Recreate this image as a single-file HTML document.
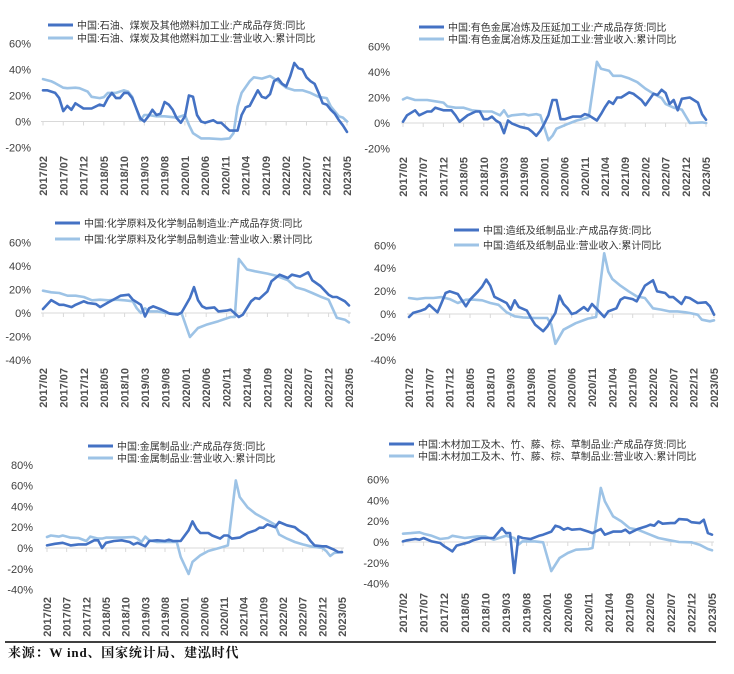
<!DOCTYPE html>
<html><head><meta charset="utf-8"><style>
html,body{margin:0;padding:0;background:#fff;}
svg{display:block;}
text{font-family:"Liberation Sans","Noto Sans CJK SC",sans-serif;}
</style></head><body>
<svg id="chart" width="734" height="674" viewBox="0 0 734 674" xmlns="http://www.w3.org/2000/svg">
<line x1="5" y1="642" x2="716" y2="642" stroke="#000" stroke-width="1.5"/>
<text x="8" y="657" font-size="13" font-weight="bold" letter-spacing="0.8" style="font-family:'Liberation Serif','Noto Serif CJK SC',serif" fill="#111">来源：W ind、国家统计局、建泓时代</text>
</svg>
<script>
const monthLabels=["2017/02","2017/07","2017/12","2018/05","2018/10","2019/03","2019/08","2020/01","2020/06","2020/11","2021/04","2021/09","2022/02","2022/07","2022/12","2023/05"];
const p1Ticks=[60,40,20,0,-20];
const p1DarkM=[0,1,3,4,5,6,7,8,10,12,14,15,16,17,18,19,20,21,22,24,25,26,27,28,29,30,31,32,33,34,35,36,37,38,39,40,42,43,44,45,46,48,49,50,51,53,54,55,56,57,58,59,60,61,62,63,64,65,66,67,68,69,70,71,72,73,74,75];
const p1DarkV=[24,24,22,18,8,12,9,14,10,10,13,12,18,22,18,18,22,22,18,2.5,0,4,9,5,6,15,13,9,2.5,-1,4,20,19,5,0,-1,1,-1,-1,-4,-7,-7,5,11,12,24,19,18,21,31,33,29,27,35,45,41,40,34,31,29,22,14,13,9,6,1,-3,-8];
const p1LightM=[0,2,3,5,6,8,9,11,12,14,15,16,18,20,21,22,24,25,26,28,30,33,35,36,37,39,41,44,46,47,48,49,51,52,54,56,58,60,62,64,66,68,70,71,73,74,75];
const p1LightV=[32.6,31,29.5,26,25.6,26,25.6,23,19,18,18.7,22,22,24,23,19,1,5,5,4,4,3,5,-2.5,-9,-13,-13,-13.6,-13,-9,11.5,22,31,34,33,35,31,26,24,24,22,19,18,11.5,4,3,0];

const p2Ticks=[60,40,20,0,-20];
const p2DarkM=[0,1,3,4,6,7,8,10,12,13,14,16,18,19,20,21,22,23,24,25,26,27,29,31,32,33,34,35,36,37,38,39,40,42,44,45,46,48,49,50,51,52,53,54,56,57,59,60,62,63,64,65,66,67,68,69,71,73,74,75];
const p2DarkV=[1,6,10,6,9,9,12,10,10,6,1,6,9,9,3,3,5,2,0,-8,2,-0.5,-3,-4.5,-7,-10,-6,-0.5,6,18,18,3,3,5,5,7,6,2,7,12.5,17,15,20,20,24,23,18,14,23,22,26,23.5,15,18,10,19,20,16,7,2.5];
const p2LightM=[0,1,3,6,8,10,11,13,15,17,20,22,24,25,26,27,30,31,33,34,36,37,38,41,43,45,46,48,49,51,52,54,56,58,60,62,64,65,67,69,71,74,75];
const p2LightV=[18.5,20,18,18,17,16,13,12,12,10,9,9,6,10,5,6,7,6,7,6,-13.5,-10,-4.5,-0.5,2,3.5,4.7,48,42.6,41,37,37,35,32,27,23,19.6,15,12,10.5,0,0.5,0];

const p3Ticks=[60,40,20,0,-20,-40];
const p3DarkM=[0,2,4,5,7,8,10,11,13,14,16,18,19,21,22,24,25,26,27,29,30,31,33,34,36,37,38,39,40,42,43,45,46,48,49,51,52,53,55,56,58,60,61,63,65,66,68,70,71,72,74,75];
const p3DarkV=[3.4,11,7,7,5,7,10,8.5,7.6,5,9,12.8,14.7,15.6,11.3,7,-3,4,5.7,3,1.4,-0.5,-1.4,0.5,12.8,22,11,5.7,4,4.8,1.4,2,2.8,-3.4,-1.4,10,12.8,12,18.4,27,32.6,29.8,32.6,31,34.6,27.8,23,15.6,13.6,13.6,10,6.5];
const p3LightM=[0,2,4,6,8,10,12,14,16,18,20,22,23,24,25,26,28,30,32,34,36,38,40,43,46,47,48,50,52,55,57,60,62,64,66,68,70,72,74,75];
const p3LightV=[19,17.6,17,14.7,14.7,13.6,10.8,11.3,10.8,11.3,10.8,10,4,0,4,1.4,1.4,0,-0.5,-0.5,-20.4,-12.8,-10,-7,-3.4,-3.4,46,37,35.5,33.5,31.8,28,21.8,19.9,17,14,11.3,-4,-5.7,-8];

const p4Ticks=[60,40,20,0,-20,-40];
const p4DarkM=[0,1,3,4,5,7,8,9,10,12,14,15,17,18,19,20,21,24,25,26,27,29,30,31,33,34,36,37,38,39,40,41,43,44,45,46,48,49,51,52,53,55,56,58,60,61,63,64,65,67,68,69,71,73,74,75];
const p4DarkV=[-2.6,1,3,4.4,8,1.5,9.6,18.3,19.8,17.5,6.7,12.5,19.8,24,30,24.7,15,9.6,3.8,12,6,3,-3.5,-9.3,-15,-10.8,1,16,8.7,5,0,1,6,3,8.7,5,-2.6,2.3,5,12.5,14.5,13,11,24.7,29.4,19.8,18.3,14.8,14.8,8.7,14.8,14,9.6,10.2,6.7,-0.6];
const p4LightM=[0,2,4,6,8,10,12,14,16,18,20,22,24,26,28,31,34,35,36,38,41,44,46,48,49,50,52,54,56,58,60,62,64,66,68,69,71,72,74,75];
const p4LightV=[14,13,14,14,14.8,13,9.6,12.5,12.5,12,9.6,8,1.5,-2,-3,-3.5,-3.5,-9.3,-26,-13.7,-8,-4,-2.6,53,37,30.6,24.7,19.8,15.4,14,5,3.8,2.3,2.3,1.5,0.9,-0.6,-5,-6.4,-5.5];

const p5Ticks=[80,60,40,20,0,-20,-40];
const p5DarkM=[0,2,4,6,8,10,12,13,14,15,17,19,21,22,23,25,26,28,30,31,32,34,36,37,38,39,41,42,44,45,46,47,49,51,53,54,55,56,58,59,61,63,64,66,67,68,70,71,73,74,75];
const p5DarkV=[2.5,4,5,2.5,3.5,3.5,7.4,7.4,0,5,6.7,7.4,5.8,3.5,5,1.6,6.7,7.4,6.7,8,6.7,6.7,17,25.6,18.6,14.4,14.4,12,9,12,12,9,10,14.4,17,19.5,19.5,22.7,20,25,21.8,20,17,12,6.7,2.5,1.6,1.6,-1.6,-3.8,-4];
const p5LightM=[0,1,3,4,6,8,10,11,13,14,15,17,19,22,23,24,25,26,28,31,33,34,36,37,39,41,44,46,48,49,51,53,56,58,59,61,63,65,67,70,71,72,73,75];
const p5LightV=[10.6,12,11,12,10,9.6,6.7,11,9,9,10,10,10,10.6,9,5.8,11,7.4,5.8,5.8,5.8,-8.6,-25,-13.4,-7,-2.9,0.3,2.5,65,49,39,33,26.6,22.4,13,9,5.8,3.5,1.6,0,-3,-7.7,-4.8,-3.8];

const p6Ticks=[60,40,20,0,-20,-40];
const p6DarkM=[0,1,3,4,5,7,9,10,12,13,16,17,19,22,24,25,26,27,28,29,31,33,34,36,37,38,39,40,41,43,45,46,48,49,51,53,54,55,57,59,60,61,62,63,65,66,67,69,70,72,73,74,75];
const p6DarkV=[0.6,1.6,2.9,2.2,3.8,0.6,-1,-4,-9,-3.5,-0.3,1.6,3.8,3.8,13.4,8.6,8.6,-29.8,5.4,3.8,2.9,6,7,10,15.7,14.4,11.8,13.4,11.8,12.5,10,8.6,12.5,7,10,10,11.8,8.6,12.5,15,16.6,15.7,19.8,17.6,18.2,18.2,22,21.4,19,18.2,21.4,8.6,7];
const p6LightM=[0,2,4,5,7,9,11,12,15,18,20,22,25,27,28,29,32,34,36,38,40,42,45,46,48,49,51,53,55,57,60,62,64,67,70,72,74,75];
const p6LightV=[8,8.6,9.3,8,6,2.9,3.8,6,3.8,5.4,5.4,2.2,6,3.8,-2.6,0.6,0.6,-0.3,-28,-15.4,-10.6,-7.4,-6.7,-5.8,52,39,24.6,19.8,13.4,11.8,7,3.8,2.2,0,-0.3,-2.6,-6.7,-8];

const panels=[
 {id:'p1',x0:43,x1:347,y0:121.5,k:26,lblR:31,ticks:p1Ticks,dm:p1DarkM,dv:p1DarkV,lm:p1LightM,lv:p1LightV,lgX:48,lgY:[25,38],xl:156,
  names:["中国:石油、煤炭及其他燃料加工业:产成品存货:同比","中国:石油、煤炭及其他燃料加工业:营业收入:累计同比"]},
 {id:'p2',x0:403,x1:706,y0:123,k:25.5,lblR:390,ticks:p2Ticks,dm:p2DarkM,dv:p2DarkV,lm:p2LightM,lv:p2LightV,lgX:419,lgY:[27,39],xl:157,
  names:["中国:有色金属冶炼及压延加工业:产成品存货:同比","中国:有色金属冶炼及压延加工业:营业收入:累计同比"]},
 {id:'p3',x0:43,x1:349,y0:313,k:23.5,lblR:31,ticks:p3Ticks,dm:p3DarkM,dv:p3DarkV,lm:p3LightM,lv:p3LightV,lgX:55,lgY:[223,239],xl:368,
  names:["中国:化学原料及化学制品制造业:产成品存货:同比","中国:化学原料及化学制品制造业:营业收入:累计同比"]},
 {id:'p4',x0:409,x1:714,y0:314,k:22.9,lblR:396,ticks:p4Ticks,dm:p4DarkM,dv:p4DarkV,lm:p4LightM,lv:p4LightV,lgX:454,lgY:[230,245],xl:368,
  names:["中国:造纸及纸制品业:产成品存货:同比","中国:造纸及纸制品业:营业收入:累计同比"]},
 {id:'p5',x0:47,x1:342,y0:548,k:20.8,lblR:33,ticks:p5Ticks,dm:p5DarkM,dv:p5DarkV,lm:p5LightM,lv:p5LightV,lgX:88,lgY:[446,458],xl:597,
  names:["中国:金属制品业:产成品存货:同比","中国:金属制品业:营业收入:累计同比"]},
 {id:'p6',x0:403,x1:712,y0:542,k:20.8,lblR:389,ticks:p6Ticks,dm:p6DarkM,dv:p6DarkV,lm:p6LightM,lv:p6LightV,lgX:389,lgY:[444,456],xl:593,
  names:["中国:木材加工及木、竹、藤、棕、草制品业:产成品存货:同比","中国:木材加工及木、竹、藤、棕、草制品业:营业收入:累计同比"]}
];
const NS='http://www.w3.org/2000/svg';
const svg=document.getElementById('chart');
function mk(tag,attrs,parent){const e=document.createElementNS(NS,tag);for(const a in attrs)e.setAttribute(a,attrs[a]);(parent||svg).appendChild(e);return e;}
const DARK='#4472C4',LIGHT='#9DC3E6';
panels.forEach(p=>{
 const g=mk('g',{});
 
 
 const xs=m=>p.x0+(p.x1-p.x0)*m/75;
 const ys=v=>p.y0-v*p.k/20;
 const ax=mk('line',{x1:p.x0-2,x2:p.x1+2,y1:p.y0,y2:p.y0,stroke:'#d9d9d9','stroke-width':1},g);
 
 
 monthLabels.forEach((lab,i)=>{
  const x=xs(i*5);
  const t=mk('line',{x1:x,x2:x,y1:p.y0,y2:p.y0+4,stroke:'#d9d9d9','stroke-width':1},g);
  
  
  const tx=mk('text',{x:0,y:0,'font-size':11,'font-weight':'bold',fill:'#505050','text-anchor':'end',transform:`translate(${x+4},${p.xl}) rotate(-90)`},g);
  
  
  tx.textContent=lab;
 });
 p.ticks.forEach(v=>{
  const t=mk('text',{x:p.lblR,y:ys(v)+4,'font-size':11,fill:'#404040','text-anchor':'end'},g);
  
  
  t.textContent=v+'%';
 });
 [[p.lm,p.lv,LIGHT,'revenue-line'],[p.dm,p.dv,DARK,'inventory-line']].forEach(s=>{
  const d=s[0].map((m,i)=>(i?'L':'M')+xs(m).toFixed(1)+','+ys(s[1][i]).toFixed(1)).join('');
  const pa=mk('path',{d:d,fill:'none',stroke:s[2],'stroke-width':2.6,'stroke-linejoin':'round','stroke-linecap':'round'},g);
  
  
 });
 [DARK,LIGHT].forEach((c,i)=>{
  const y=p.lgY[i];
  const l=mk('line',{x1:p.lgX,x2:p.lgX+25,y1:y,y2:y,stroke:c,'stroke-width':3},g);
  
  
  const t=mk('text',{x:p.lgX+29,y:y+4,'font-size':10,fill:'#333'},g);
  
  
  t.textContent=p.names[i];
 });
});
</script>
</body></html>
